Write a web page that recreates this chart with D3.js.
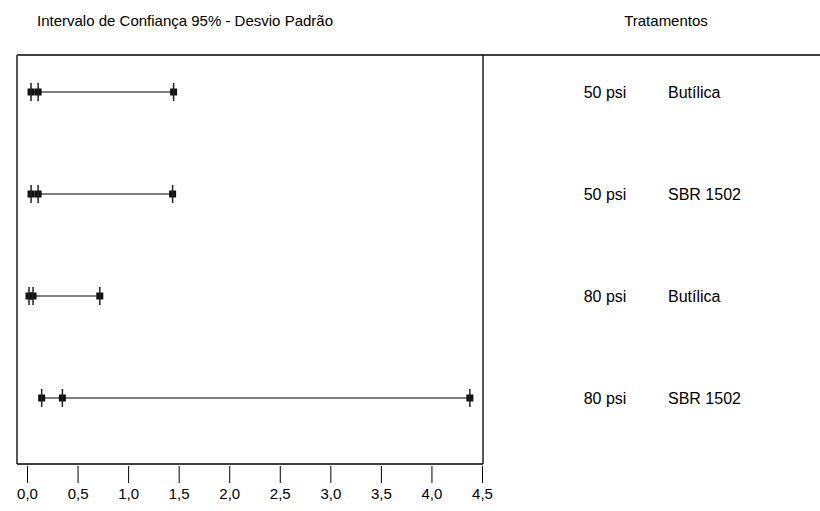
<!DOCTYPE html>
<html><head><meta charset="utf-8">
<script src="https://cdn.jsdelivr.net/npm/d3@7"></script>
<style>body{margin:0;background:#fff}svg{display:block}text{font-family:"Liberation Sans",Arial,sans-serif;fill:#000}</style>
</head><body>
<script>
const pressures = ["50 psi","50 psi","80 psi","80 psi"];
const materials = ["Butílica","SBR 1502","Butílica","SBR 1502"];
const lower = [0.04,0.04,0.02,0.145];
const estimate = [0.11,0.11,0.06,0.35];
const upper = [1.45,1.44,0.72,4.38];
const xTicks = [0,0.5,1,1.5,2,2.5,3,3.5,4,4.5];

(function(){
const W=820,H=511;
const svg=d3.select("body").append("svg").attr("width",W).attr("height",H);
const fL=17, fR=483, fT=55, fB=464;
const x=d3.scaleLinear().domain([0,4.5]).range([27,482]);
const y=d3.scaleBand().domain(d3.range(4)).range([41,449]);
const yc=i=>y(i)+y.bandwidth()/2;

svg.append("text").attr("x",37).attr("y",26).style("font-size","15px").text("Intervalo de Confiança 95% - Desvio Padrão");
svg.append("text").attr("x",666).attr("y",26).attr("text-anchor","middle").style("font-size","15px").text("Tratamentos");

// frame
const g=svg.append("g").attr("stroke","#000").attr("stroke-width",1.3).attr("fill","none");
g.append("line").attr("x1",fL).attr("x2",W).attr("y1",fT).attr("y2",fT);
g.append("line").attr("x1",fL).attr("x2",fL).attr("y1",fT).attr("y2",fB).attr("stroke","#555").attr("stroke-width",2);
g.append("line").attr("x1",fL).attr("x2",fR).attr("y1",fB).attr("y2",fB);
g.append("line").attr("x1",fR).attr("x2",fR).attr("y1",fT).attr("y2",fB);

// axis
const ax=svg.append("g").attr("transform",`translate(0,${fB})`)
  .call(d3.axisBottom(x).tickValues(xTicks).tickSize(19).tickPadding(5).tickFormat(d=>d3.format(".1f")(d).replace(".",",")));
ax.select(".domain").remove();
ax.selectAll(".tick line").attr("stroke","#000").attr("y1",2);
ax.selectAll(".tick text").style("font-size","15px").style("font-family","Liberation Sans, Arial, sans-serif");

// intervals
const rows=d3.range(4);
svg.append("g").selectAll("line").data(rows).join("line")
  .attr("x1",i=>x(lower[i])).attr("x2",i=>x(upper[i]))
  .attr("y1",yc).attr("y2",yc).attr("stroke","#555").attr("stroke-width",1.5);
function marks(arr){
  svg.append("g").selectAll("rect").data(rows).join("rect")
    .attr("x",i=>x(arr[i])-3.5).attr("y",i=>yc(i)-3.5).attr("width",7).attr("height",7).attr("fill","#111");
  svg.append("g").selectAll("line").data(rows).join("line")
    .attr("x1",i=>x(arr[i])).attr("x2",i=>x(arr[i]))
    .attr("y1",i=>yc(i)-9).attr("y2",i=>yc(i)+9).attr("stroke","#222").attr("stroke-width",1.5);
}
marks(lower);marks(estimate);marks(upper);

svg.append("g").selectAll("text").data(rows).join("text").attr("x",605).attr("y",i=>yc(i)+6)
  .attr("text-anchor","middle").style("font-size","16px").text(i=>pressures[i]);
svg.append("g").selectAll("text").data(rows).join("text").attr("x",668).attr("y",i=>yc(i)+6)
  .style("font-size","16px").text(i=>materials[i]);
})();
</script>
</body></html>
